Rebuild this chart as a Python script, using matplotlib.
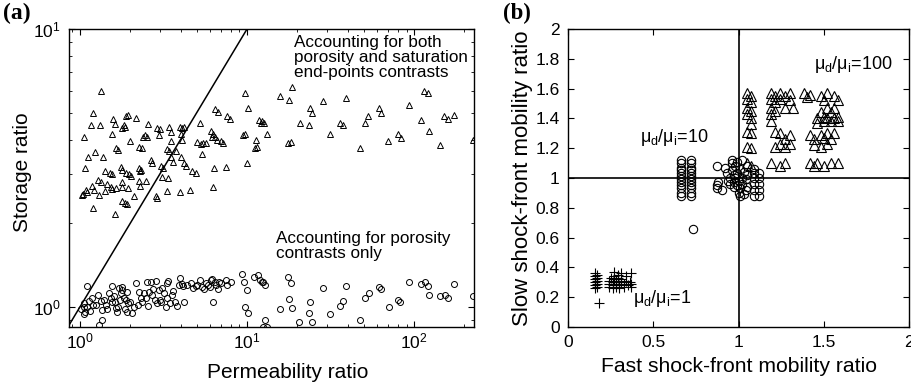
import numpy as np
import matplotlib.pyplot as plt
from matplotlib.ticker import FixedLocator, LogLocator, NullFormatter, FixedFormatter

plt.rcParams['font.family'] = ['Liberation Sans', 'DejaVu Sans']
plt.rcParams['mathtext.fontset'] = 'custom'
plt.rcParams['mathtext.rm'] = 'Liberation Sans'
plt.rcParams['mathtext.it'] = 'Liberation Sans'

# (a) permeability ratio vs storage ratio
# both porosity and saturation end-point contrasts (triangles)
both_pts = [
    (1.34, 6.0), (1.2, 5.0), (1.16, 4.5), (1.32, 4.5), (1.58, 4.75), (1.62, 4.55),
    (1.88, 4.85), (1.94, 4.9), (2.16, 4.8), (1.83, 4.5), (1.86, 4.45), (1.78, 4.4),
    (1.55, 4.2), (1.06, 4.1), (2.55, 4.55), (2.9, 4.4), (3.0, 4.35), (2.97, 4.17),
    (2.45, 4.15), (2.52, 4.1), (2.38, 4.07), (3.4, 4.45), (3.97, 4.45), (4.08, 4.4),
    (4.2, 4.45), (4.0, 4.2), (3.5, 4.25), (4.1, 4.0), (2.0, 3.95), (3.5, 3.95),
    (2.26, 3.76), (2.35, 3.73), (1.64, 3.73), (1.69, 3.67), (1.23, 3.6), (1.12, 3.45),
    (1.37, 3.45), (1.07, 3.16), (1.41, 3.08), (1.51, 3.03), (1.55, 3.0), (1.76, 3.18),
    (1.78, 3.1), (1.88, 3.03), (1.96, 3.0), (2.02, 2.95), (2.26, 3.16), (2.32, 3.1),
    (2.29, 3.08), (2.66, 3.38), (2.7, 3.29), (3.05, 3.2), (3.14, 3.16), (3.3, 3.7),
    (3.4, 3.64), (3.76, 3.64), (3.5, 3.45), (3.6, 3.32), (4.0, 3.45), (4.2, 3.29),
    (4.3, 3.2), (4.7, 3.08), (4.95, 3.03), (3.1, 2.93), (3.36, 2.9), (2.26, 2.84),
    (2.48, 2.84), (1.78, 2.81), (2.29, 2.72), (1.28, 2.86), (1.34, 2.81), (1.18, 2.72),
    (1.45, 2.77), (1.53, 2.7), (1.55, 2.66), (1.64, 2.68), (1.78, 2.7), (1.94, 2.68),
    (1.09, 2.64), (1.1, 2.6), (1.04, 2.55), (1.21, 2.64), (1.41, 2.62), (1.3, 2.53),
    (2.1, 2.5), (2.85, 2.5), (2.9, 2.47), (3.3, 2.62), (3.97, 2.6), (4.56, 2.64),
    (6.25, 2.7), (1.78, 2.4), (1.86, 2.37), (1.91, 2.35), (1.2, 2.27), (1.03, 2.53),
    (1.62, 2.16),
    (6.4, 5.15), (6.7, 5.02), (7.6, 4.85), (7.9, 4.75), (5.2, 4.6), (6.1, 4.3),
    (6.25, 4.2), (6.4, 4.1), (6.6, 4.0), (7.0, 3.95), (7.2, 3.9), (6.2, 4.1),
    (5.0, 3.92), (5.3, 3.87), (5.45, 3.9), (5.65, 3.9), (5.4, 3.55), (6.3, 3.16),
    (7.5, 3.18), (9.7, 5.9), (10.1, 5.2), (11.8, 4.7), (12.3, 4.65), (12.6, 4.6),
    (12.1, 4.6), (9.7, 4.2), (9.45, 4.17), (11.3, 4.0), (11.1, 3.73), (11.5, 3.76),
    (10.0, 3.29), (13.1, 4.2), (18.6, 6.2), (15.8, 5.75), (17.9, 5.56), (28.5, 5.5),
    (39.0, 5.65), (23.8, 5.2), (24.5, 5.0), (20.8, 4.6), (23.5, 4.5), (36.0, 4.6),
    (37.6, 4.5), (52.6, 4.85), (51.0, 4.6), (61.7, 5.2), (63.5, 5.0), (93.0, 5.34),
    (115.0, 6.0), (121.0, 5.9), (110.0, 4.7), (150.0, 4.85), (160.0, 4.75), (173.0, 4.9),
    (17.6, 3.9), (18.3, 3.92), (31.4, 4.2), (47.5, 3.73), (69.6, 3.95), (80.0, 4.2),
    (83.0, 4.05), (122.0, 4.3), (143.0, 3.82), (226.0, 4.0),
]

# porosity contrasts only (circles)
poro_pts = [
    (1.1, 1.19), (1.06, 1.0), (1.07, 0.96), (1.06, 0.94), (1.13, 1.05), (1.18, 1.08),
    (1.2, 1.02), (1.3, 0.86), (1.35, 0.9), (1.34, 1.05), (1.35, 0.975), (1.43, 1.02),
    (1.55, 1.19), (1.53, 1.08), (1.55, 1.04), (1.6, 1.09), (1.64, 0.99), (1.67, 0.96),
    (1.71, 1.17), (1.78, 1.15), (1.76, 1.12), (1.78, 1.18), (1.83, 1.08), (1.88, 1.06),
    (1.94, 1.03), (2.0, 1.04), (1.91, 0.96), (2.05, 0.95), (2.16, 1.22), (2.26, 1.13),
    (2.32, 1.08), (2.22, 1.02), (2.35, 1.04), (2.52, 1.23), (2.66, 1.23), (2.48, 1.08),
    (2.59, 1.13), (2.7, 1.1), (2.85, 1.24), (2.81, 1.06), (2.9, 1.03), (3.05, 1.04),
    (2.97, 1.15), (3.1, 1.17), (3.3, 1.22), (3.36, 1.24), (3.3, 1.08), (3.27, 1.0),
    (3.56, 1.1), (3.7, 1.04), (3.8, 1.01), (3.97, 1.27), (4.08, 1.21), (4.14, 1.19),
    (4.2, 1.04), (4.75, 1.17), (4.95, 1.19), (5.23, 1.25), (5.4, 1.18), (5.5, 1.16),
    (5.65, 1.22), (6.1, 1.25), (6.2, 1.26), (6.4, 1.23), (6.5, 1.2), (6.7, 1.16),
    (6.25, 1.04), (7.0, 1.22), (7.5, 1.25), (7.6, 1.2), (8.0, 1.23), (9.3, 1.31),
    (9.6, 1.23), (10.0, 1.15), (9.7, 1.0), (10.1, 0.95), (11.0, 1.28), (11.6, 1.3),
    (11.96, 1.25), (12.3, 1.23), (12.8, 0.9), (12.5, 0.85),
    (1.02, 0.98), (1.05, 1.03), (1.1, 1.0), (1.15, 0.97), (1.25, 1.02), (1.28, 1.1),
    (1.4, 1.06), (1.45, 0.98), (1.5, 1.12), (1.62, 1.04), (1.7, 1.0), (1.74, 1.06),
    (1.85, 0.98), (1.9, 1.13), (2.1, 1.0), (2.4, 1.12), (2.55, 1.01), (2.75, 1.16),
    (3.0, 1.06), (3.2, 1.12), (3.45, 1.03), (3.6, 1.14), (3.9, 1.2), (4.4, 1.2),
    (4.6, 1.22), (5.0, 1.2), (5.8, 1.2), (6.0, 1.18), (6.8, 1.23),
    (12.5, 1.23), (12.8, 1.2), (13.1, 0.85), (17.6, 1.28), (18.3, 1.22), (15.8, 0.98),
    (17.9, 1.07), (18.6, 0.99), (20.4, 0.88), (23.5, 0.95), (23.8, 1.04), (24.5, 0.88),
    (28.5, 1.17), (31.4, 0.94), (36.0, 1.01), (37.6, 1.05), (39.0, 1.19), (47.5, 0.9),
    (51.0, 1.08), (53.5, 1.12), (61.7, 1.18), (63.5, 1.16), (70.5, 1.0), (80.0, 1.06),
    (82.4, 1.04), (93.0, 1.23), (110.0, 1.21), (116.0, 1.23), (121.0, 1.19), (122.0, 1.1),
    (143.0, 1.09), (154.0, 1.1), (160.0, 1.08), (173.0, 1.21), (226.0, 1.09),
]

# (b) fast vs slow shock-front mobility ratio
mu1_pts = [
    (0.155, 0.26), (0.155, 0.28), (0.155, 0.30), (0.155, 0.32), (0.155, 0.34), (0.155, 0.36),
    (0.17, 0.27), (0.17, 0.29), (0.17, 0.31), (0.17, 0.33), (0.17, 0.35),
    (0.24, 0.27), (0.24, 0.29), (0.24, 0.31), (0.25, 0.33),
    (0.26, 0.26), (0.26, 0.28), (0.26, 0.30), (0.27, 0.32), (0.27, 0.34), (0.27, 0.37),
    (0.28, 0.27), (0.28, 0.29), (0.28, 0.31), (0.29, 0.33), (0.29, 0.35),
    (0.30, 0.26), (0.30, 0.28), (0.31, 0.30), (0.31, 0.32), (0.31, 0.36),
    (0.33, 0.27), (0.33, 0.29), (0.34, 0.31), (0.34, 0.34), (0.35, 0.28),
    (0.36, 0.30), (0.37, 0.27), (0.37, 0.29), (0.37, 0.36),
    (0.18, 0.16),
]

mu10_pts = [
    (0.66, 0.88), (0.66, 0.90), (0.66, 0.93), (0.66, 0.95), (0.66, 0.97), (0.66, 0.99),
    (0.66, 1.01), (0.66, 1.03), (0.66, 1.05), (0.66, 1.07), (0.66, 1.10), (0.66, 1.12),
    (0.72, 0.88), (0.72, 0.90), (0.72, 0.93), (0.72, 0.95), (0.72, 0.97), (0.72, 0.99),
    (0.72, 1.01), (0.72, 1.03), (0.72, 1.05), (0.72, 1.07), (0.72, 1.10), (0.72, 1.12),
    (0.73, 0.66),
    (0.87, 1.08), (0.87, 0.95), (0.88, 0.97), (0.87, 0.93), (0.90, 0.92),
    (0.92, 1.07), (0.93, 1.03), (0.94, 0.98), (0.95, 0.96), (0.95, 1.00),
    (0.96, 1.12), (0.96, 1.10), (0.96, 1.05), (0.97, 1.02), (0.97, 0.97), (0.97, 0.94),
    (0.98, 1.08), (0.98, 1.00), (0.99, 0.95), (0.99, 1.03), (0.99, 1.11),
    (1.00, 0.90), (1.00, 0.98), (1.01, 1.06), (1.01, 0.88), (1.01, 0.93), (1.02, 1.00),
    (1.02, 1.12), (1.02, 0.96), (1.03, 1.04), (1.03, 0.89), (1.04, 0.92), (1.04, 0.99),
    (1.05, 1.08), (1.05, 1.02), (1.05, 0.94),
    (1.09, 0.88), (1.09, 0.92), (1.09, 0.96), (1.09, 1.00), (1.09, 1.03), (1.09, 1.06),
    (1.12, 0.88), (1.12, 0.92), (1.12, 0.96), (1.12, 1.00), (1.12, 1.03),
]

mu100_pts = [
    (1.05, 1.57), (1.05, 1.53), (1.05, 1.47), (1.05, 1.43), (1.05, 1.31), (1.05, 1.21),
    (1.05, 1.10), (1.07, 1.55), (1.07, 1.51), (1.07, 1.45), (1.07, 1.40), (1.07, 1.36),
    (1.07, 1.30), (1.07, 1.20), (1.07, 1.08),
    (1.19, 1.57), (1.19, 1.53), (1.19, 1.47), (1.19, 1.43), (1.19, 1.38), (1.19, 1.10),
    (1.21, 1.55), (1.21, 1.51), (1.21, 1.45), (1.21, 1.31), (1.21, 1.21),
    (1.24, 1.57), (1.24, 1.53), (1.24, 1.30), (1.24, 1.23), (1.24, 1.08),
    (1.27, 1.55), (1.27, 1.47), (1.27, 1.26), (1.27, 1.21), (1.27, 1.10),
    (1.30, 1.57), (1.30, 1.52), (1.30, 1.29), (1.30, 1.23), (1.32, 1.47),
    (1.38, 1.57), (1.40, 1.54), (1.42, 1.56), (1.42, 1.10), (1.44, 1.08),
    (1.42, 1.29), (1.44, 1.26), (1.44, 1.22), (1.46, 1.40), (1.46, 1.37),
    (1.46, 1.10), (1.48, 1.55), (1.48, 1.44), (1.48, 1.29), (1.48, 1.21),
    (1.50, 1.52), (1.50, 1.41), (1.50, 1.38), (1.50, 1.27), (1.50, 1.08),
    (1.52, 1.57), (1.52, 1.47), (1.52, 1.40), (1.52, 1.30), (1.52, 1.23),
    (1.54, 1.44), (1.54, 1.38), (1.54, 1.26), (1.54, 1.10),
    (1.56, 1.55), (1.56, 1.47), (1.56, 1.40), (1.56, 1.30), (1.58, 1.52),
    (1.58, 1.41), (1.58, 1.38), (1.58, 1.10),
]

both_perm, both_stor = zip(*both_pts)
poro_perm, poro_stor = zip(*poro_pts)
mu1_fast, mu1_slow = zip(*mu1_pts)
mu10_fast, mu10_slow = zip(*mu10_pts)
mu100_fast, mu100_slow = zip(*mu100_pts)

a_xticks = [1, 10, 100]
a_xlabels = [r'$10^0$', r'$10^1$', r'$10^2$']
a_yticks = [1, 10]
a_ylabels = [r'$10^0$', r'$10^1$']
b_ticks = [0, 0.2, 0.4, 0.6, 0.8, 1, 1.2, 1.4, 1.6, 1.8, 2]
b_labels = ['0', '0.2', '0.4', '0.6', '0.8', '1', '1.2', '1.4', '1.6', '1.8', '2']
bx_ticks = [0, 0.5, 1, 1.5, 2]
bx_labels = ['0', '0.5', '1', '1.5', '2']

fig = plt.figure(figsize=(9.12, 3.86), dpi=100)
ax1 = fig.add_axes([0.0757, 0.153, 0.444, 0.772])
ax2 = fig.add_axes([0.623, 0.153, 0.374, 0.772])

# panel (a)
ax1.plot(both_perm, both_stor, '^', mfc='none', mec='k', ms=4.3, mew=0.7)
ax1.plot(poro_perm, poro_stor, 'o', mfc='none', mec='k', ms=4.3, mew=0.7)
line_x = np.array([0.5, 20.0])
ax1.plot(line_x, line_x, 'k-', lw=1.1)
ax1.set_xscale('log')
ax1.set_yscale('log')
ax1.set_xlim(0.86, 228)
ax1.set_ylim(0.847, 10)
ax1.xaxis.set_major_locator(FixedLocator(a_xticks))
ax1.xaxis.set_major_formatter(FixedFormatter(a_xlabels))
ax1.yaxis.set_major_locator(FixedLocator(a_yticks))
ax1.yaxis.set_major_formatter(FixedFormatter(a_ylabels))
ax1.xaxis.set_minor_locator(LogLocator(subs=np.arange(2, 10)))
ax1.yaxis.set_minor_locator(LogLocator(subs=np.arange(2, 10)))
ax1.xaxis.set_minor_formatter(NullFormatter())
ax1.yaxis.set_minor_formatter(NullFormatter())
ax1.set_xlabel('Permeability ratio', fontsize=15)
ax1.set_ylabel('Storage ratio', fontsize=15)
ax1.xaxis.set_label_coords(0.54, -0.12)
ax1.yaxis.set_label_coords(-0.092, 0.52)
ax1.text(19.0, 9.5, 'Accounting for both\nporosity and saturation\nend-points contrasts',
         fontsize=12.3, va='top', ha='left', linespacing=1.0)
ax1.text(15.0, 1.87, 'Accounting for porosity\ncontrasts only',
         fontsize=12.3, va='top', ha='left', linespacing=1.0)

# panel (b)
ax2.plot(mu1_fast, mu1_slow, '+', color='k', ms=7, mew=0.8)
ax2.plot(mu10_fast, mu10_slow, 'o', mfc='none', mec='k', ms=6, mew=0.8)
ax2.plot(mu100_fast, mu100_slow, '^', mfc='none', mec='k', ms=6.5, mew=0.8)
ax2.axvline(1, color='k', lw=1.2)
ax2.axhline(1, color='k', lw=1.2)
ax2.set_xlim(0, 2)
ax2.set_ylim(0, 2)
ax2.set_yticks(b_ticks)
ax2.set_yticklabels(b_labels)
ax2.set_xticks(bx_ticks)
ax2.set_xticklabels(bx_labels)
ax2.set_xlabel('Fast shock-front mobility ratio', fontsize=15.2, labelpad=5)
ax2.set_ylabel('Slow shock-front mobility ratio', fontsize=16, labelpad=2)
ax2.text(1.44, 1.76, r'$\mu_d/\mu_i$=100', fontsize=13, va='center')
ax2.text(0.42, 1.27, r'$\mu_d/\mu_i$=10', fontsize=13, va='center')
ax2.text(0.38, 0.19, r'$\mu_d/\mu_i$=1', fontsize=13, va='center')

for ax in (ax1, ax2):
    ax.tick_params(which='both', direction='in', top=True, right=True, labelsize=12.5, pad=6)
    ax.tick_params(which='major', length=4)
    ax.tick_params(which='minor', length=2)
    for s in ax.spines.values():
        s.set_linewidth(1.0)
ax1.tick_params(axis='x', which='both', pad=3)

fig.text(0.003, 0.95, '(a)', fontsize=17, fontweight='bold', family='Liberation Serif')
fig.text(0.551, 0.95, '(b)', fontsize=16.5, fontweight='bold', family='Liberation Serif')

fig.savefig('out.png', dpi=100)
